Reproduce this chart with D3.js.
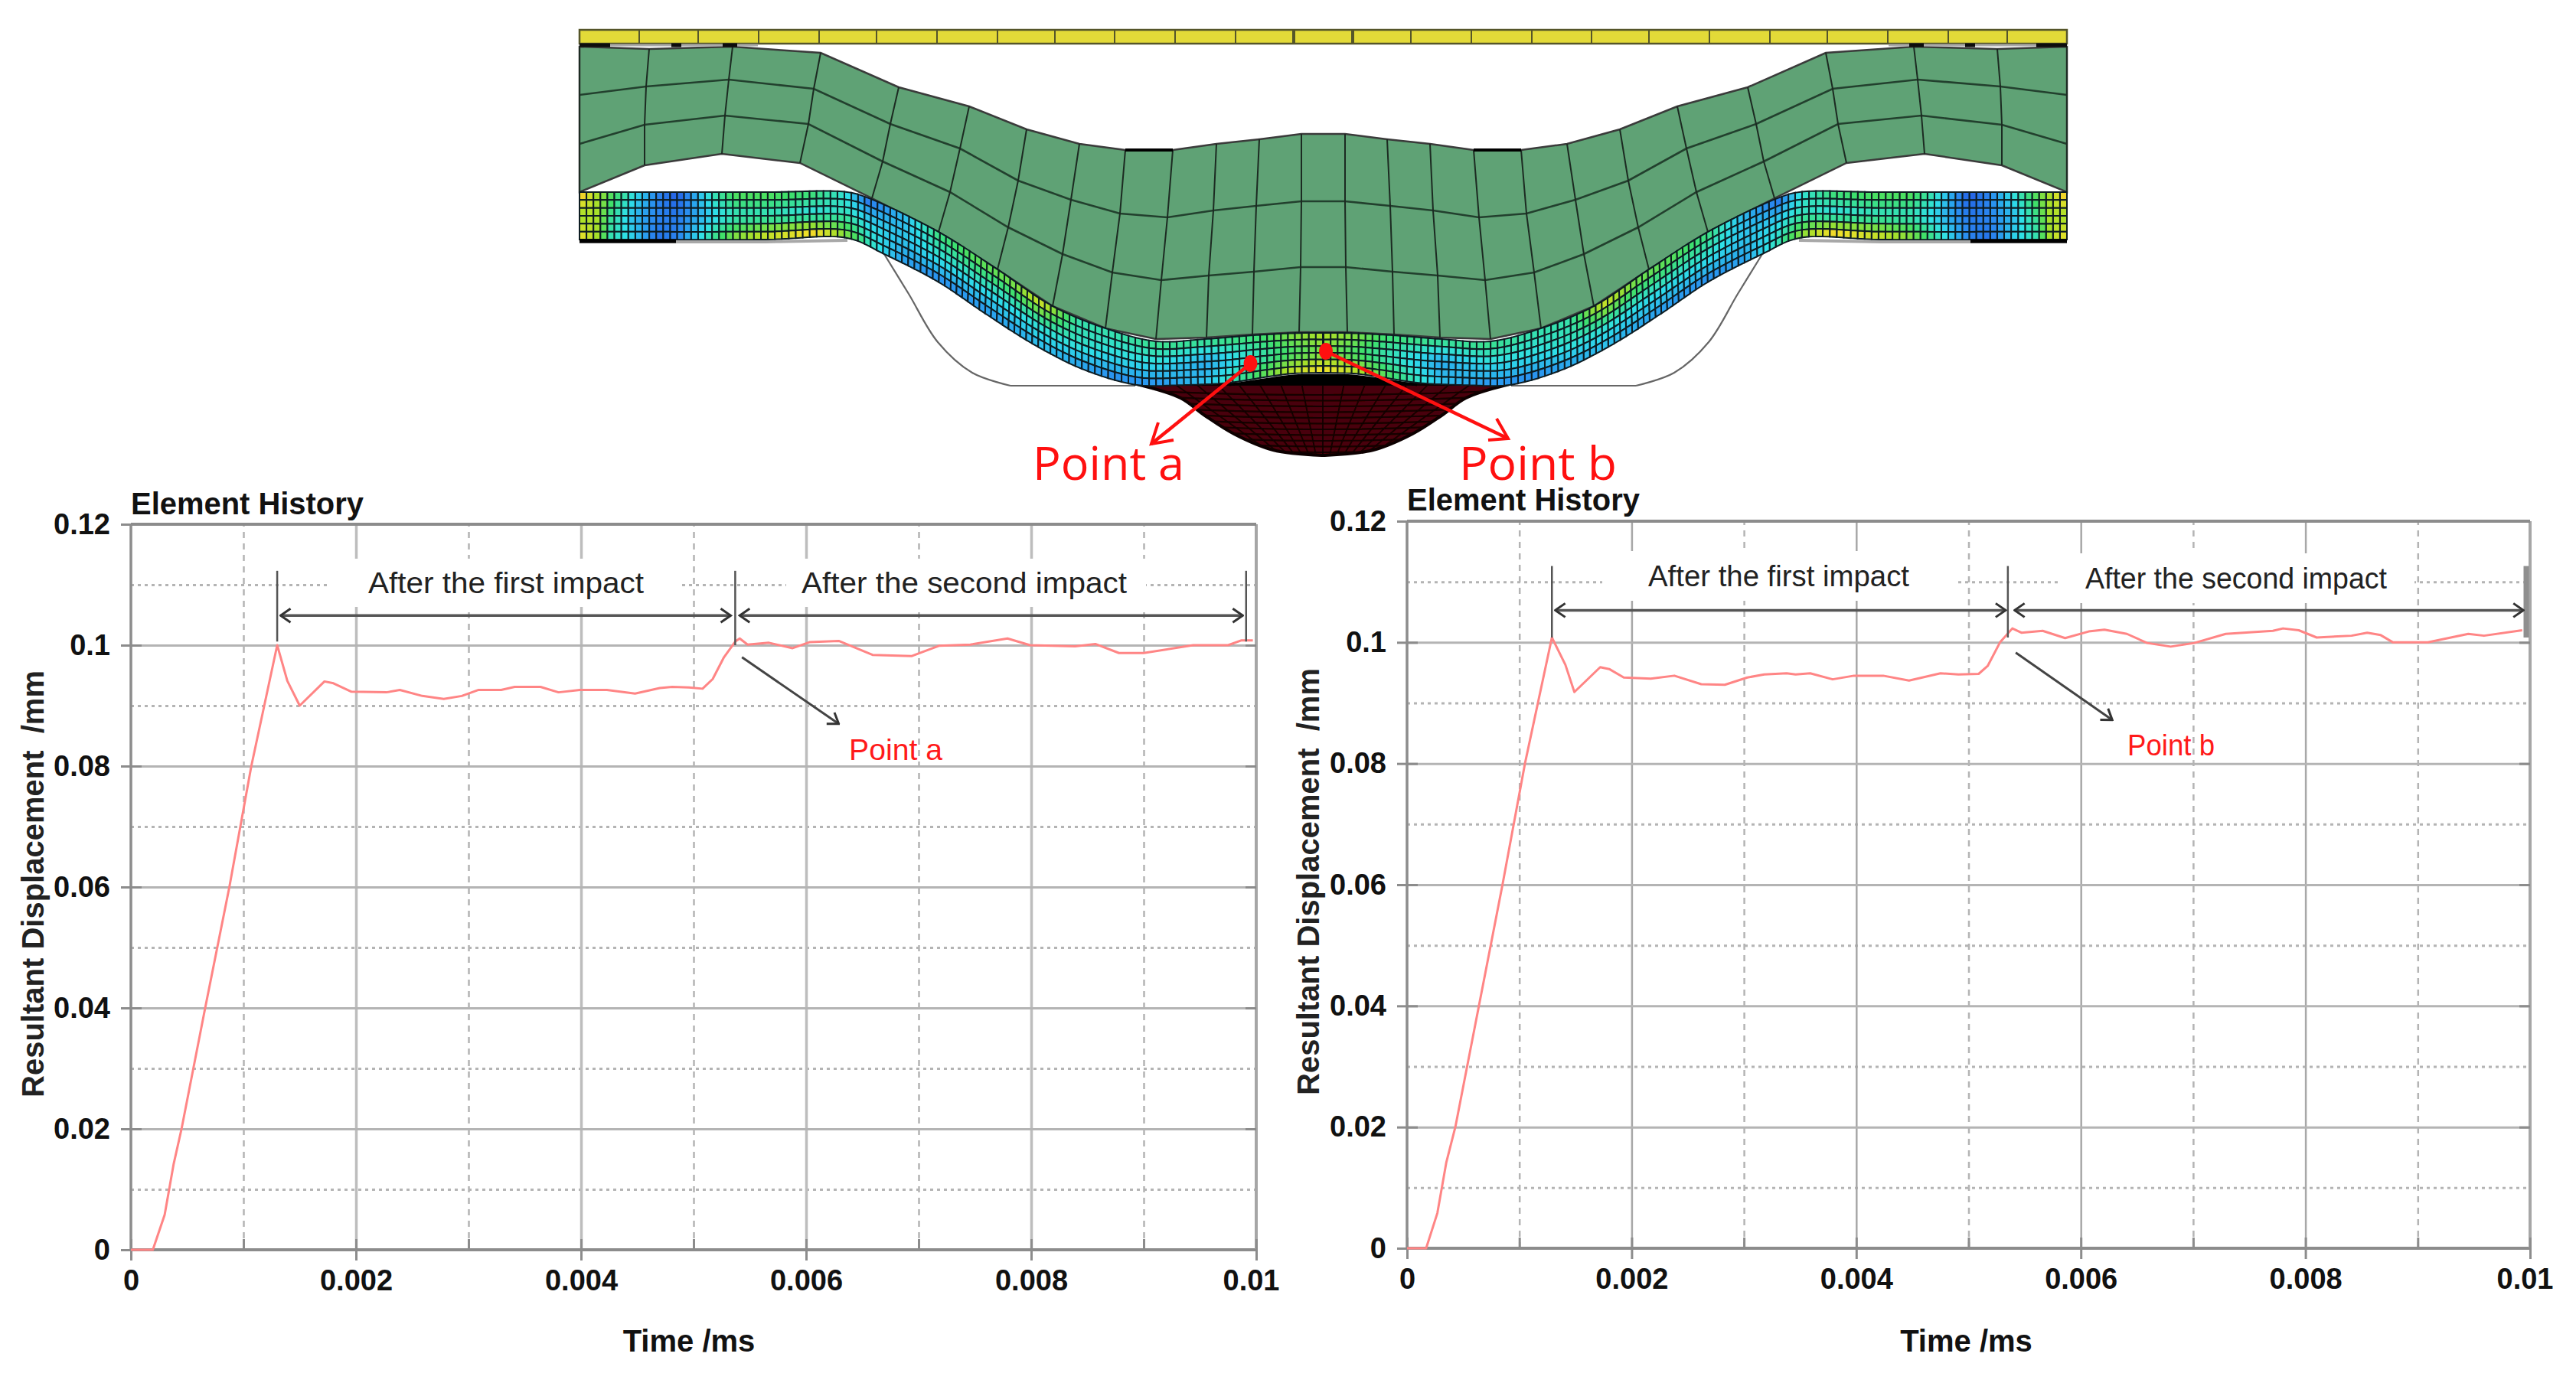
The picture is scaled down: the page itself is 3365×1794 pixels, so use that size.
<!DOCTYPE html>
<html>
<head>
<meta charset="utf-8">
<title>Element History</title>
<script src="https://cdnjs.cloudflare.com/ajax/libs/d3/7.8.5/d3.min.js"></script>
<style>
  html, body { margin: 0; padding: 0; background: #fff; }
  svg { display: block; }
  text { font-family: "Liberation Sans", Arial, sans-serif; }
</style>
</head>
<body>
<div id="figure"></div>
<script>
// chart values
var xMajorTicks = [0, 0.002, 0.004, 0.006, 0.008, 0.01];
var xMinorTicks = [0.001, 0.003, 0.005, 0.007, 0.009];
var yMajorTicks = [0, 0.02, 0.04, 0.06, 0.08, 0.1, 0.12];
var yMinorTicks = [0.01, 0.03, 0.05, 0.07, 0.09, 0.11];

var timeA = [0, 0.000195, 0.0003, 0.00038, 0.00045, 0.00066, 0.000875, 0.00107, 0.0013, 0.00139, 0.0015, 0.00172, 0.0018, 0.00196, 0.00227, 0.00239, 0.00259, 0.00278, 0.00294, 0.00309, 0.00329, 0.00341, 0.00364, 0.0038, 0.00399, 0.00423, 0.00448, 0.0047, 0.00481, 0.00496, 0.00508, 0.00517, 0.00527, 0.00537, 0.00541, 0.00548, 0.00567, 0.00588, 0.00603, 0.00629, 0.00659, 0.00694, 0.00718, 0.00746, 0.00779, 0.00799, 0.00839, 0.00857, 0.00878, 0.009, 0.00944, 0.00975, 0.00987, 0.00997];
var dispA = [0, 0, 0.0058, 0.0142, 0.02, 0.04, 0.06, 0.08, 0.1, 0.0941, 0.09, 0.094, 0.0937, 0.0923, 0.0922, 0.0926, 0.0916, 0.0911, 0.0916, 0.0926, 0.0926, 0.0931, 0.0931, 0.0922, 0.0926, 0.0926, 0.092, 0.0929, 0.0931, 0.093, 0.0928, 0.0944, 0.098, 0.1006, 0.1011, 0.1001, 0.1004, 0.0995, 0.1005, 0.1007, 0.0984, 0.0982, 0.0999, 0.1001, 0.1011, 0.1, 0.0998, 0.1002, 0.0987, 0.0987, 0.1, 0.1, 0.1008, 0.1008];

var timeB = [0, 0.00017, 0.00027, 0.00035, 0.00043, 0.00064, 0.00085, 0.00105, 0.00129, 0.00141, 0.00149, 0.00172, 0.0018, 0.00193, 0.00217, 0.00238, 0.00262, 0.00283, 0.00303, 0.00318, 0.00338, 0.00346, 0.00359, 0.00379, 0.00398, 0.00424, 0.00447, 0.00475, 0.00491, 0.00509, 0.00517, 0.00528, 0.00539, 0.00547, 0.00566, 0.00586, 0.00607, 0.00621, 0.00641, 0.00659, 0.0068, 0.00701, 0.00729, 0.00771, 0.0078, 0.00794, 0.0081, 0.00841, 0.00855, 0.00867, 0.00878, 0.00909, 0.00945, 0.00959, 0.00993];
var dispB = [0, 0, 0.0058, 0.0142, 0.02, 0.04, 0.06, 0.08, 0.1008, 0.0963, 0.0918, 0.0959, 0.0956, 0.0942, 0.094, 0.0945, 0.0931, 0.093, 0.0942, 0.0947, 0.0949, 0.0947, 0.0949, 0.0939, 0.0945, 0.0945, 0.0937, 0.0949, 0.0947, 0.0948, 0.0961, 0.1, 0.1023, 0.1016, 0.1019, 0.1007, 0.1018, 0.1021, 0.1014, 0.0999, 0.0993, 0.0999, 0.1014, 0.1019, 0.1023, 0.102, 0.1008, 0.1011, 0.1016, 0.1012, 0.1, 0.1, 0.1014, 0.1011, 0.102];

// finite element picture, left half only, the right half is mirrored
var mirrorAxis = 3457;
// [top, row 1, row 2, bottom] nodes of each column of the green block
var blockColumns = [
  [[757, 61], [757, 124], [757, 188], [757, 251]],
  [[848, 64], [844, 113], [842, 163], [842, 216]],
  [[957, 61], [952, 104], [947, 151], [943, 201]],
  [[1072, 69], [1063, 116], [1056, 162], [1045, 213]],
  [[1174, 114], [1163, 162], [1153, 211], [1139, 259]],
  [[1266, 139], [1254, 194], [1241, 251], [1226, 303]],
  [[1341, 169], [1330, 236], [1317, 297], [1303, 352]],
  [[1410, 188], [1399, 261], [1388, 332], [1375, 400]],
  [[1470, 196], [1463, 279], [1453, 356], [1444, 429]],
  [[1532, 196], [1525, 284], [1517, 366], [1510, 443]],
  [[1589, 188], [1585, 275], [1579, 360], [1576, 441]],
  [[1645, 182], [1641, 269], [1638, 355], [1636, 437]],
  [[1700, 175], [1700, 263], [1699, 349], [1697, 434]]
];
var sheetTop = [[757, 251], [1000, 251], [1107, 251], [1135, 259], [1226, 303], [1303, 352], [1375, 400], [1444, 429], [1510, 446], [1574, 443], [1638, 438], [1699, 435], [1728, 435]];
var sheetBottom = [[757, 313], [1000, 313], [1107, 311], [1155, 332], [1225, 368], [1289, 411], [1352, 451], [1416, 483], [1485, 503], [1542, 503], [1606, 500], [1651, 493], [1689, 488], [1728, 487]];
var dieCurve = [[1155, 332], [1187, 384], [1225, 447], [1270, 487], [1320, 504]];
var dieFlat = [[1320, 504], [1483, 504]];
var ballOutline = [[1485, 502], [1542, 520], [1574, 543], [1612, 567], [1663, 588], [1728, 595]];
var plateDividers = [835, 912, 991, 1070, 1145, 1224, 1303, 1378, 1456, 1535, 1614, 1691, 1768];
var blackTopPatches = [[757, 797], [877, 890], [944, 963]];

// stress colour along the sheet: position along the half, [top, middle, bottom]
var fieldPosition = [0, 0.02, 0.04, 0.07, 0.1, 0.125, 0.17, 0.2, 0.24, 0.3, 0.34, 0.37, 0.42, 0.47, 0.53, 0.58, 0.63, 0.68, 0.73, 0.79, 0.85, 0.92, 0.96, 1];
var fieldTop = [0.95, 0.7, 0.55, 0.35, 0.15, 0.05, 0.4, 0.55, 0.55, 0.5, 0.35, 0.1, 0.25, 0.48, 0.58, 0.62, 0.8, 0.42, 0.42, 0.47, 0.47, 0.5, 0.62, 0.7];
var fieldMiddle = [0.65, 0.7, 0.45, 0.25, 0.15, 0.12, 0.3, 0.38, 0.38, 0.33, 0.4, 0.32, 0.28, 0.35, 0.35, 0.35, 0.38, 0.38, 0.33, 0.33, 0.22, 0.4, 0.5, 0.58];
var fieldBottom = [0.85, 0.7, 0.4, 0.3, 0.1, 0.15, 0.45, 0.65, 0.8, 0.95, 0.65, 0.42, 0.2, 0.15, 0.17, 0.2, 0.25, 0.2, 0.15, 0.17, 0.28, 0.55, 0.75, 0.88];
var fieldColors = ["#2348e0", "#2a8cf0", "#2fe0e8", "#3fe06a", "#a4e02c", "#f0e02c", "#f09020"];

var width = 3365, height = 1794;

var svg = d3.select("#figure").append("svg")
    .attr("width", width)
    .attr("height", height)
    .attr("viewBox", "0 0 " + width + " " + height);

var defs = svg.append("defs");
defs.append("marker")
    .attr("id", "open-black")
    .attr("viewBox", "-16 -11 18 22")
    .attr("refX", 0).attr("refY", 0)
    .attr("markerUnits", "userSpaceOnUse")
    .attr("markerWidth", 18).attr("markerHeight", 22)
    .attr("orient", "auto-start-reverse")
    .append("path")
    .attr("d", "M-13,-9L0,0L-13,9")
    .attr("fill", "none").attr("stroke", "#333").attr("stroke-width", 3);
defs.append("filter").attr("id", "soft")
    .append("feGaussianBlur").attr("stdDeviation", 0.7);

var line = d3.line();
var curved = d3.line().curve(d3.curveCatmullRom.alpha(0.5));
function mirror(p) { return [mirrorAxis - p[0], p[1]]; }
function bothSides(points) {
  return points.concat(points.slice().reverse().map(mirror));
}

drawMesh();
drawChart({
  x0: 171, x1: 1641, y0: 1633, y1: 685, time: timeA, disp: dispA,
  titleY: 672, yTitleX: 57, yTitleC: 1155,
  majorColor: "#bdbdbd", majorWidth: 3.5,
  rightWidth: 4,
  marks: [[0.0013, 0.1006], [0.00537, 0.1], [0.00991, 0.1006]], markTop: 0.1123, arrowY: 0.1049,
  spanEnd: 0.00988,
  boxes: [[429, 730, 461, 63], [1027, 730, 470, 63]],
  labels: [["After the first impact", 481, 775, 360], ["After the second impact", 1047, 775, 425]],
  pointArrow: [[0.00543, 0.098], [0.00629, 0.087]],
  pointLabel: ["Point a", 1109, 993, 122]
});
drawChart({
  x0: 1838, x1: 3305, y0: 1631, y1: 681, time: timeB, disp: dispB,
  titleY: 667, yTitleX: 1723, yTitleC: 1152,
  majorColor: "#a8a8a8", majorWidth: 2.5,
  rightWidth: 4,
  marks: [[0.00129, 0.1008], [0.00535, 0.1008]], markTop: 0.1126, arrowY: 0.1053,
  spanEnd: 0.00994,
  boxes: [[2093, 720, 462, 65], [2693, 723, 461, 65]],
  labels: [["After the first impact", 2153, 766, 341], ["After the second impact", 2724, 769, 394]],
  pointArrow: [[0.00542, 0.0983], [0.00628, 0.0872]],
  pointLabel: ["Point b", 2779, 987, 114]
});

function drawChart(c) {
  var w = c.x1 - c.x0, h = c.y0 - c.y1;
  var x = d3.scaleLinear().domain([0, 0.01]).range([0, w]);
  var y = d3.scaleLinear().domain([0, 0.12]).range([h, 0]);

  var g = svg.append("g").attr("transform", "translate(" + c.x0 + "," + c.y1 + ")");

  // grid lines
  var grid = function(axis, color, sw, dash) {
    var a = g.append("g").call(axis);
    a.select(".domain").remove();
    a.selectAll("text").remove();
    a.selectAll("line").attr("stroke", color).attr("stroke-width", sw).attr("stroke-dasharray", dash);
    return a;
  };
  grid(d3.axisBottom(x).tickValues(xMinorTicks).tickSize(-h), "#b4b4b4", 2.5, "8,7")
      .attr("transform", "translate(0," + h + ")");
  grid(d3.axisLeft(y).tickValues(yMinorTicks).tickSize(-w), "#b4b4b4", 3, "4,5");
  grid(d3.axisBottom(x).tickValues(xMajorTicks.slice(1, 5)).tickSize(-h), c.majorColor, c.majorWidth, null)
      .attr("transform", "translate(0," + h + ")");
  grid(d3.axisLeft(y).tickValues(yMajorTicks.slice(1, 6)).tickSize(-w), "#b4b4b4", 3, null);

  // white boxes behind the typed labels
  c.boxes.forEach(function(b) {
    svg.append("rect").attr("x", b[0]).attr("y", b[1]).attr("width", b[2]).attr("height", b[3]).attr("fill", "#fff");
  });

  g = svg.append("g").attr("transform", "translate(" + c.x0 + "," + c.y1 + ")");

  // frame
  var frame = function(x1, y1, x2, y2, sw, color) {
    g.append("line").attr("x1", x1).attr("y1", y1).attr("x2", x2).attr("y2", y2)
        .attr("stroke", color).attr("stroke-width", sw);
  };
  frame(0, 0, w, 0, 4, "#8c8c8c");
  frame(0, h, w, h, 4, "#8c8c8c");
  frame(0, 0, 0, h, 3.5, "#8c8c8c");
  frame(w, 0, w, h, c.rightWidth, "#a6a6a6");

  // tick marks, inside and outside
  var ticks = function(axis, tx, ty) {
    var a = g.append("g").attr("transform", "translate(" + tx + "," + ty + ")").call(axis);
    a.select(".domain").remove();
    a.selectAll("text").remove();
    a.selectAll("line").attr("stroke", "#8c8c8c").attr("stroke-width", 3);
  };
  ticks(d3.axisRight(y).tickValues(yMajorTicks).tickSize(14), 0, 0);
  ticks(d3.axisLeft(y).tickValues(yMajorTicks).tickSize(14), w, 0);
  ticks(d3.axisTop(x).tickValues(xMajorTicks.concat(xMinorTicks)).tickSize(14), 0, h);

  // axes with their labels
  var yAxis = g.append("g").call(d3.axisLeft(y).tickValues(yMajorTicks).tickSize(13).tickPadding(14)
      .tickFormat(function(d) { return d === 0 ? "0" : String(d); }));
  yAxis.select(".domain").remove();
  yAxis.selectAll("line").attr("stroke", "#8c8c8c").attr("stroke-width", 3);
  yAxis.selectAll("text").style("font-family", "Liberation Sans").style("font-size", "38px")
      .style("font-weight", "bold").attr("fill", "#111");

  var xAxis = g.append("g").attr("transform", "translate(0," + h + ")")
      .call(d3.axisBottom(x).tickValues(xMajorTicks).tickSize(14).tickPadding(12)
      .tickFormat(function(d) { return String(d); }));
  xAxis.select(".domain").remove();
  xAxis.selectAll("line").attr("stroke", "#8c8c8c").attr("stroke-width", 3);
  xAxis.selectAll("text").style("font-family", "Liberation Sans").style("font-size", "38px")
      .style("font-weight", "bold").attr("fill", "#111");
  xAxis.selectAll("text").filter(function(d) { return d === 0.01; }).attr("x", -7);

  // the curve, straight between samples as the solver plots it
  var path = d3.line()
      .x(function(d, i) { return x(c.time[i]); })
      .y(function(d) { return y(d); });
  g.append("path").datum(c.disp)
      .attr("d", path)
      .attr("fill", "none")
      .attr("stroke", "#ff8585")
      .attr("stroke-width", 3)
      .attr("stroke-linejoin", "round");

  // extent marks and double arrows
  c.marks.forEach(function(m) {
    g.append("line").attr("x1", x(m[0])).attr("x2", x(m[0]))
        .attr("y1", y(c.markTop)).attr("y2", y(m[1]))
        .attr("stroke", "#555").attr("stroke-width", 2.5);
  });
  if (c.marks.length < 3) {
    g.append("line").attr("x1", w - 5).attr("x2", w - 5).attr("y1", y(c.markTop)).attr("y2", y(0.1008))
        .attr("stroke", "#8f8f8f").attr("stroke-width", 7);
  }
  var spans = [[c.marks[0][0] + 0.00003, 0.00533], [0.00541, c.spanEnd]];
  spans.forEach(function(s) {
    g.append("line").attr("x1", x(s[0])).attr("x2", x(s[1]))
        .attr("y1", y(c.arrowY)).attr("y2", y(c.arrowY))
        .attr("stroke", "#555").attr("stroke-width", 3.5)
        .attr("marker-start", "url(#open-black)")
        .attr("marker-end", "url(#open-black)");
  });
  g.append("line")
      .attr("x1", x(c.pointArrow[0][0])).attr("y1", y(c.pointArrow[0][1]))
      .attr("x2", x(c.pointArrow[1][0])).attr("y2", y(c.pointArrow[1][1]))
      .attr("stroke", "#444").attr("stroke-width", 3)
      .attr("marker-end", "url(#open-black)");

  // texts
  c.labels.forEach(function(t) {
    svg.append("text").attr("x", t[1]).attr("y", t[2])
        .attr("textLength", t[3]).attr("lengthAdjust", "spacingAndGlyphs")
        .style("font-size", "38px").attr("fill", "#222").text(t[0]);
  });
  svg.append("text").attr("x", c.pointLabel[1]).attr("y", c.pointLabel[2])
      .attr("textLength", c.pointLabel[3]).attr("lengthAdjust", "spacingAndGlyphs")
      .style("font-size", "38px").attr("fill", "#ff1a1a").text(c.pointLabel[0]);

  svg.append("text").attr("x", c.x0).attr("y", c.titleY)
      .attr("textLength", 304).attr("lengthAdjust", "spacingAndGlyphs")
      .style("font-size", "40px").style("font-weight", "bold").attr("fill", "#111")
      .text("Element History");
  svg.append("text")
      .attr("transform", "translate(" + c.yTitleX + "," + c.yTitleC + ") rotate(-90)")
      .attr("text-anchor", "middle")
      .attr("xml:space", "preserve").style("white-space", "pre")
      .style("font-size", "40px").style("font-weight", "bold").attr("fill", "#222")
      .text("Resultant Displacement  /mm");
  svg.append("text")
      .attr("x", c.x0 + w / 2 + (c.x0 < 1000 ? -6 : -3)).attr("y", 1766)
      .attr("text-anchor", "middle")
      .style("font-size", "40px").style("font-weight", "bold").attr("fill", "#111")
      .text("Time /ms");
}

function drawMesh() {
  var mesh = svg.append("g").attr("filter", "url(#soft)");

  // yellow top plate
  mesh.append("rect").attr("x", 757).attr("y", 39).attr("width", 1943).attr("height", 18)
      .attr("fill", "#e3da38").attr("stroke", "#55552a").attr("stroke-width", 2.5);
  mesh.selectAll(".plate-div")
      .data(plateDividers.concat(plateDividers.map(function(d) { return mirrorAxis - d; })))
      .enter().append("line")
      .attr("x1", function(d) { return d; }).attr("x2", function(d) { return d; })
      .attr("y1", 39).attr("y2", 57)
      .attr("stroke", "#55552a").attr("stroke-width", 2);

  // die outline under the sheet
  [dieCurve, dieCurve.map(mirror)].forEach(function(pts) {
    mesh.append("path").attr("d", curved(pts)).attr("fill", "none")
        .attr("stroke", "#666").attr("stroke-width", 2.2);
  });
  [dieFlat, dieFlat.map(mirror)].forEach(function(pts) {
    mesh.append("path").attr("d", line(pts)).attr("fill", "none")
        .attr("stroke", "#666").attr("stroke-width", 2.2);
  });

  // impactor
  var ballId = "ball-clip";
  var ballPts = bothSides(ballOutline);
  defs.append("clipPath").attr("id", ballId).append("path").attr("d", curved(ballPts) + "Z");
  mesh.append("path").attr("d", curved(ballPts) + "Z").attr("fill", "#4a0008").attr("stroke", "#0c0000").attr("stroke-width", 4);
  var ball = mesh.append("g").attr("clip-path", "url(#" + ballId + ")");
  d3.range(0, 11).forEach(function(i) {
    ball.append("path").attr("fill", "none").attr("stroke", "#120000").attr("stroke-width", 2.2)
        .attr("d", "M1480," + (510 + i * 7) + "Q1728," + (522 + i * 8) + " 1976," + (510 + i * 7));
  });
  d3.range(-7, 8).forEach(function(i) {
    ball.append("line").attr("stroke", "#120000").attr("stroke-width", 1.8)
        .attr("x1", 1728 + i * 30).attr("y1", 490)
        .attr("x2", 1728 + i * 8).attr("y2", 600);
  });

  // green block
  var columns = blockColumns.concat(blockColumns.slice().reverse().map(function(col) { return col.map(mirror); }));
  var topEdge = columns.map(function(c) { return c[0]; });
  var bottomEdge = columns.map(function(c) { return c[3]; });
  mesh.append("path")
      .attr("d", line(topEdge.concat(bottomEdge.slice().reverse())) + "Z")
      .attr("fill", "#5ea274").attr("stroke", "#3a3a3a").attr("stroke-width", 2.5);
  [1, 2].forEach(function(r) {
    mesh.append("path").attr("d", line(columns.map(function(c) { return c[r]; })))
        .attr("fill", "none").attr("stroke", "#24402e").attr("stroke-width", 2.6);
  });
  columns.forEach(function(c) {
    mesh.append("path").attr("d", line(c)).attr("fill", "none").attr("stroke", "#1d2b22").attr("stroke-width", 2);
  });

  // black contact lines of the block
  mesh.append("path").attr("d", line(blockColumns.slice(8, 10).map(function(c) { return c[0]; })))
      .attr("stroke", "#000").attr("stroke-width", 4).attr("fill", "none");
  mesh.append("path").attr("d", line(blockColumns.slice(8, 10).map(function(c) { return mirror(c[0]); })))
      .attr("stroke", "#000").attr("stroke-width", 4).attr("fill", "none");
  [[757, 990], [2467, 2700]].forEach(function(p) {
    mesh.append("line").attr("x1", p[0]).attr("x2", p[1]).attr("y1", 59).attr("y2", 59)
        .attr("stroke", "#aaa").attr("stroke-width", 3);
  });
  blackTopPatches.forEach(function(p) {
    [p, [mirrorAxis - p[1], mirrorAxis - p[0]]].forEach(function(q) {
      mesh.append("line").attr("x1", q[0]).attr("x2", q[1]).attr("y1", 59).attr("y2", 59)
          .attr("stroke", "#111").attr("stroke-width", 5);
    });
  });

  // coloured sheet, sampled along its two smooth edges
  var color = d3.scaleLinear()
      .domain(fieldColors.map(function(d, i) { return i / (fieldColors.length - 1); }))
      .range(fieldColors);
  var field = function(row) {
    return d3.scaleLinear().domain(fieldPosition).range(row);
  };
  var fTop = field(fieldTop), fMid = field(fieldMiddle), fBot = field(fieldBottom);

  var probeTop = mesh.append("path").attr("d", curved(sheetTop)).attr("fill", "none").node();
  var probeBot = mesh.append("path").attr("d", curved(sheetBottom)).attr("fill", "none").node();
  var lenTop = probeTop.getTotalLength(), lenBot = probeBot.getTotalLength();
  var halfCells = 112, rows = 6;
  var nodeAt = function(i, r) {
    var a = probeTop.getPointAtLength(lenTop * i / halfCells);
    var b = probeBot.getPointAtLength(lenBot * i / halfCells);
    var t = r / rows;
    return [a.x + (b.x - a.x) * t, a.y + (b.y - a.y) * t];
  };
  var cells = [];
  d3.range(halfCells).forEach(function(i) {
    d3.range(rows).forEach(function(r) {
      var s = (i + 0.5) / halfCells, t = (r + 0.5) / rows;
      var v = t < 0.5 ? fTop(s) + (fMid(s) - fTop(s)) * t * 2 : fMid(s) + (fBot(s) - fMid(s)) * (t - 0.5) * 2;
      var poly = [nodeAt(i, r), nodeAt(i + 1, r), nodeAt(i + 1, r + 1), nodeAt(i, r + 1)];
      cells.push({ poly: poly, v: v });
      cells.push({ poly: poly.map(mirror), v: v });
    });
  });
  mesh.selectAll(".cell")
      .data(cells)
      .enter().append("path")
      .attr("d", function(d) { return line(d.poly) + "Z"; })
      .attr("fill", function(d) { return color(d.v); })
      .attr("stroke", "#0b1c22")
      .attr("stroke-width", 2);
  probeTop.remove();
  probeBot.remove();

  // outline strips along the sheet
  [sheetBottom.slice(0, 3), sheetBottom.slice(0, 3).map(mirror)].forEach(function(pts) {
    mesh.append("path").attr("d", line(pts)).attr("fill", "none").attr("stroke", "#a8a8a8").attr("stroke-width", 4)
        .attr("transform", "translate(0,3)");
  });
  [[757, 883], [2574, 2700]].forEach(function(p) {
    mesh.append("line").attr("x1", p[0]).attr("x2", p[1]).attr("y1", 315).attr("y2", 315)
        .attr("stroke", "#000").attr("stroke-width", 5);
  });
  mesh.append("path").attr("d", curved(sheetBottom.slice(10).concat(sheetBottom.slice(10, 13).reverse().map(mirror))))
      .attr("fill", "#000").attr("stroke", "#000").attr("stroke-width", 3)
      .attr("transform", "translate(0,3)");

  // the two picked points, and the red callouts
  var picked = [[1633.5, 475], [1732, 459]];
  var calloutEnd = [[1504, 580], [1970, 573]];
  var barbs = [[[1513, 552], [1533, 575]], [[1955, 547], [1944, 575]]];
  var overlay = svg.append("g");
  picked.forEach(function(p, i) {
    overlay.append("ellipse").attr("cx", p[0]).attr("cy", p[1]).attr("rx", 9).attr("ry", 11).attr("fill", "#ff1010");
    overlay.append("path").attr("d", line([p, calloutEnd[i]]))
        .attr("stroke", "#ff1010").attr("stroke-width", 4.5).attr("fill", "none");
    overlay.append("path").attr("d", line([barbs[i][0], calloutEnd[i], barbs[i][1]]))
        .attr("stroke", "#ff1010").attr("stroke-width", 4).attr("fill", "none");
  });
  overlay.append("text").attr("x", 1349).attr("y", 627)
      .attr("textLength", 198).attr("lengthAdjust", "spacingAndGlyphs")
      .style("font-family", "Open Sans").style("font-size", "60px").attr("fill", "#ff1010").text("Point a");
  overlay.append("text").attr("x", 1906).attr("y", 627)
      .attr("textLength", 206).attr("lengthAdjust", "spacingAndGlyphs")
      .style("font-family", "Open Sans").style("font-size", "60px").attr("fill", "#ff1010").text("Point b");
}
</script>
</body>
</html>
